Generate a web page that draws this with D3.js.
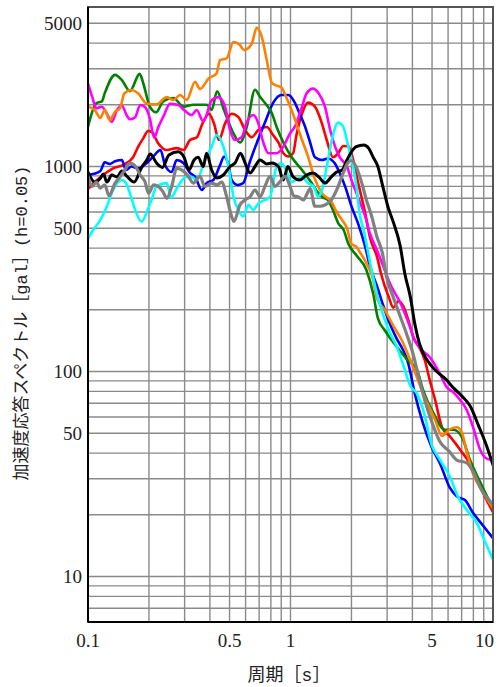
<!DOCTYPE html>
<html>
<head>
<meta charset="utf-8">
<script src="https://cdn.jsdelivr.net/npm/d3@7"></script>
<style>
  html, body { margin: 0; padding: 0; background: #fff; }
  svg { display: block; }
  .tick-label { font-family: "Liberation Serif", "DejaVu Serif", serif; font-size: 19px; fill: #222; }
  .axis-title { font-family: "Liberation Mono", "Noto Sans CJK JP", monospace; font-size: 17px; fill: #222; }
</style>
</head>
<body>
<svg id="chart" width="503" height="687"></svg>
<script>
// Response spectra, [period (s), acceleration (gal)]
const red = [[0.100,777],[0.108,840],[0.119,909],[0.133,980],[0.149,1017],[0.167,1110],[0.177,1250],[0.188,1380],[0.198,1490],[0.207,1470],[0.222,1300],[0.245,1204],[0.274,1230],[0.296,1204],[0.319,1347],[0.345,1390],[0.365,1594],[0.396,1810],[0.419,1620],[0.443,1347],[0.475,1620],[0.512,1810],[0.553,1740],[0.597,1507],[0.643,1390],[0.694,1507],[0.763,1560],[0.822,1420],[0.871,1310],[0.922,1160],[0.975,1120],[1.03,1160],[1.07,1425],[1.14,1810],[1.22,2050],[1.32,1958],[1.43,1620],[1.51,1347],[1.62,1110],[1.72,1160],[1.82,1260],[1.93,1255],[2.04,1076],[2.16,830],[2.34,590],[2.47,450],[2.68,360],[2.80,300],[3.06,230],[3.22,205],[3.41,220],[3.60,209],[3.82,178],[4.04,147],[4.33,131],[4.60,114],[4.87,91],[5.18,72.6],[5.60,53.5],[6.10,48.5],[7.01,40.5],[7.70,35.5],[8.65,27.3],[10.0,20.6]];

const blue = [[0.100,909],[0.115,950],[0.121,1050],[0.128,1030],[0.136,1060],[0.147,1076],[0.154,962],[0.164,1000],[0.177,980],[0.195,1040],[0.210,1120],[0.228,1204],[0.240,1017],[0.259,940],[0.274,1076],[0.296,1040],[0.319,930],[0.338,890],[0.365,768],[0.385,830],[0.416,860],[0.449,1017],[0.470,1120],[0.494,1017],[0.512,860],[0.547,813],[0.584,830],[0.630,1055],[0.681,1300],[0.748,1640],[0.822,2050],[0.902,2233],[0.975,2233],[1.05,2050],[1.09,1887],[1.18,1565],[1.25,1310],[1.32,1110],[1.43,1076],[1.53,1095],[1.65,1040],[1.75,930],[1.86,800],[2.00,640],[2.17,518],[2.34,405],[2.47,325],[2.67,262],[2.87,210],[3.09,172],[3.34,145],[3.60,127],[3.81,110],[4.11,78],[4.52,55.5],[4.99,42.5],[5.48,35.5],[6.10,27.3],[6.62,24.6],[7.27,23.6],[7.98,20.4],[8.90,17.8],[10.0,15.4]];

const green = [[0.100,1565],[0.110,2040],[0.117,2080],[0.121,2280],[0.136,2800],[0.147,2640],[0.161,2330],[0.180,2830],[0.188,2520],[0.202,1960],[0.217,1840],[0.235,2080],[0.264,2160],[0.296,1960],[0.331,2000],[0.386,2000],[0.408,1890],[0.434,2330],[0.469,1890],[0.523,1450],[0.563,1310],[0.608,1560],[0.668,2370],[0.707,2190],[0.748,2040],[0.809,1820],[0.854,1560],[0.922,1310],[1.02,1100],[1.14,962],[1.27,833],[1.37,744],[1.45,705],[1.53,687],[1.62,614],[1.72,530],[1.83,490],[1.93,420],[2.11,370],[2.37,313],[2.56,240],[2.70,182],[2.92,159],[3.31,134],[3.78,114],[4.21,102],[4.52,81],[5.11,62],[5.78,52],[6.39,52],[7.01,48],[7.70,37],[8.65,28.8],[10.0,21.5]];

const magenta = [[0.100,2540],[0.105,2180],[0.110,1925],[0.117,1958],[0.124,1810],[0.131,1650],[0.139,1887],[0.147,1985],[0.155,1784],[0.161,1700],[0.171,1740],[0.181,1996],[0.191,1950],[0.202,1720],[0.212,1385],[0.223,1565],[0.236,1760],[0.254,2020],[0.279,1996],[0.301,1870],[0.325,1784],[0.344,1887],[0.371,1660],[0.409,2111],[0.440,2180],[0.475,1958],[0.503,1507],[0.532,1347],[0.574,1390],[0.609,1650],[0.655,1784],[0.694,1620],[0.734,1310],[0.778,1160],[0.854,1160],[0.922,1250],[0.990,1440],[1.05,1565],[1.14,1958],[1.20,2270],[1.29,2400],[1.38,2270],[1.48,1958],[1.57,1507],[1.66,1250],[1.75,1110],[1.90,1000],[2.00,860],[2.16,705],[2.34,570],[2.47,470],[2.67,392],[2.92,313],[3.09,270],[3.48,217],[3.91,163],[4.11,142],[4.33,131],[4.89,117],[5.48,97],[5.90,84],[6.39,79],[6.88,72.6],[7.42,64.9],[8.02,52.5],[8.65,41.4],[9.40,37.4],[10.0,37.0]];

const orange = [[0.100,1958],[0.108,1887],[0.115,1725],[0.121,1887],[0.128,1686],[0.136,1850],[0.144,1925],[0.151,2270],[0.164,2362],[0.177,2270],[0.195,2030],[0.218,2010],[0.245,2180],[0.264,2111],[0.285,2233],[0.307,2111],[0.338,2590],[0.357,2390],[0.396,2700],[0.431,2840],[0.449,3308],[0.484,3370],[0.523,4050],[0.563,3916],[0.589,3702],[0.643,3960],[0.681,4750],[0.721,4300],[0.763,3308],[0.809,2560],[0.854,2480],[0.902,2430],[0.954,2170],[1.03,1800],[1.14,1347],[1.22,1120],[1.31,885],[1.43,740],[1.59,675],[1.69,600],[1.80,548],[1.90,500],[2.00,420],[2.12,405],[2.19,385],[2.38,335],[2.56,280],[2.66,230],[2.92,200],[3.22,167],[3.54,142.5],[4.03,105],[4.52,78],[5.18,58],[5.60,48.5],[6.06,52],[6.62,53.5],[7.01,50.5],[7.42,40.5],[7.98,31.6],[8.79,26.4],[10.0,21.6]];

const cyan = [[0.100,445],[0.106,490],[0.115,548],[0.124,640],[0.133,768],[0.147,860],[0.155,820],[0.164,700],[0.171,614],[0.184,538],[0.197,614],[0.206,687],[0.218,800],[0.245,830],[0.257,705],[0.276,790],[0.305,890],[0.325,890],[0.344,860],[0.378,1076],[0.408,1250],[0.432,1425],[0.466,1250],[0.494,1000],[0.523,710],[0.553,614],[0.584,570],[0.620,650],[0.654,614],[0.694,660],[0.748,687],[0.793,712],[0.854,1000],[0.902,1040],[0.954,950],[1.01,840],[1.06,860],[1.14,890],[1.22,830],[1.30,800],[1.37,712],[1.43,768],[1.51,1000],[1.59,1310],[1.72,1640],[1.82,1565],[1.93,1250],[2.04,1000],[2.12,790],[2.18,614],[2.31,480],[2.47,340],[2.67,240],[2.86,190],[3.09,155],[3.34,133],[3.60,108],[3.91,85],[4.21,78],[4.52,65],[4.99,43.5],[5.48,37],[6.10,31],[6.70,24.6],[7.42,21.1],[8.35,18.1],[9.10,14.9],[10.0,12.1]];

const black = [[0.100,940],[0.108,840],[0.115,875],[0.119,920],[0.124,840],[0.131,909],[0.139,890],[0.147,950],[0.155,900],[0.169,840],[0.184,990],[0.195,1076],[0.203,1150],[0.218,1040],[0.233,990],[0.251,1138],[0.279,1180],[0.298,1110],[0.315,962],[0.334,1076],[0.350,1110],[0.371,1000],[0.385,1160],[0.408,962],[0.432,880],[0.466,909],[0.503,1000],[0.532,1040],[0.566,1160],[0.597,1040],[0.631,930],[0.668,1000],[0.707,1076],[0.763,1030],[0.809,1040],[0.871,1000],[0.922,860],[0.970,1000],[1.03,890],[1.11,860],[1.20,909],[1.29,930],[1.38,890],[1.48,830],[1.59,890],[1.69,940],[1.80,962],[1.90,1076],[2.00,1180],[2.11,1250],[2.30,1274],[2.43,1230],[2.56,1110],[2.70,1000],[2.86,795],[3.03,635],[3.21,540],[3.48,410],[3.67,300],[3.91,230],[4.11,171],[4.33,137],[4.72,114],[5.18,101.7],[5.90,90.9],[6.39,83],[7.01,76],[7.70,68],[8.48,54.5],[9.33,43],[10.0,35]];

const gray = [[0.100,895],[0.105,800],[0.110,840],[0.115,785],[0.121,813],[0.127,720],[0.136,830],[0.144,890],[0.152,962],[0.161,1040],[0.173,990],[0.181,909],[0.191,845],[0.199,740],[0.211,813],[0.222,800],[0.235,750],[0.245,700],[0.259,800],[0.274,980],[0.290,962],[0.313,895],[0.331,830],[0.357,895],[0.378,800],[0.408,830],[0.434,813],[0.457,840],[0.484,712],[0.512,570],[0.526,540],[0.563,650],[0.597,687],[0.631,712],[0.668,768],[0.707,712],[0.748,800],[0.793,895],[0.838,800],[0.888,845],[0.940,895],[0.995,800],[1.04,718],[1.09,712],[1.16,687],[1.21,740],[1.25,780],[1.32,640],[1.40,640],[1.48,649],[1.59,687],[1.72,800],[1.82,930],[1.93,1050],[2.00,1070],[2.12,985],[2.25,830],[2.37,687],[2.52,570],[2.67,455],[2.84,380],[2.98,290],[3.22,230],[3.48,186],[3.73,154],[4.03,122],[4.33,91],[4.60,72.6],[4.89,60],[5.48,45.3],[6.06,40.9],[6.62,37],[7.42,35.8],[7.98,32.5],[8.79,26.4],[9.56,23.6],[10.0,22.5]];

const xTickLabels = [0.1, 0.5, 1, 5, 10];
const yTickLabels = [10, 50, 100, 500, 1000, 5000];

// drawing order and styles
const series = [
  { data: red, color: '#ff0000', width: 2.6 },
  { data: blue, color: '#0000ff', width: 2.6 },
  { data: green, color: '#008000', width: 2.6 },
  { data: magenta, color: '#ff00ff', width: 2.6 },
  { data: orange, color: '#ff8000', width: 2.6 },
  { data: cyan, color: '#00ffff', width: 2.6 },
  { data: black, color: '#000000', width: 3 },
  { data: gray, color: '#808080', width: 3.2 }
];

const margin = { left: 88, right: 10, top: 7, bottom: 65 };
const width = 503, height = 687;

const svg = d3.select('#chart');

const x = d3.scaleLog().domain([0.1, 10]).range([margin.left, width - margin.right]);
const y = d3.scaleLog().domain([6, 6000]).range([height - margin.bottom, margin.top]);

// grid lines: 1..9 in every decade
let xGrid = [];
[0.1, 1].forEach(d => { for (let k = 1; k <= 9; k++) xGrid.push(d * k); });
xGrid.push(10);
let yGrid = [];
[1, 10, 100, 1000].forEach(d => {
  for (let k = 1; k <= 9; k++) {
    let v = d * k;
    if (v >= 6 && v <= 6000) yGrid.push(v);
  }
});

const grid = svg.append('g');
grid.selectAll('.vg').data(xGrid).join('line')
  .attr('x1', d => x(d)).attr('x2', d => x(d))
  .attr('y1', y.range()[0]).attr('y2', y.range()[1])
  .attr('stroke', '#8a8a8a').attr('stroke-width', 1.4);
grid.selectAll('.hg').data(yGrid).join('line')
  .attr('x1', x.range()[0]).attr('x2', x.range()[1])
  .attr('y1', d => y(d)).attr('y2', d => y(d))
  .attr('stroke', '#8a8a8a').attr('stroke-width', 1.4);

// clip to plot
svg.append('clipPath').attr('id', 'plot-clip')
  .append('rect')
  .attr('x', x.range()[0]).attr('y', y.range()[1])
  .attr('width', x.range()[1] - x.range()[0])
  .attr('height', y.range()[0] - y.range()[1]);

const line = d3.line()
  .x(d => x(d[0]))
  .y(d => y(d[1]))
  .curve(d3.curveMonotoneX);

const lines = svg.append('g').attr('clip-path', 'url(#plot-clip)');
series.forEach(s => {
  lines.append('path')
    .attr('d', line(s.data))
    .attr('fill', 'none')
    .attr('stroke', s.color)
    .attr('stroke-width', s.width)
    .attr('stroke-linejoin', 'round')
    .attr('stroke-linecap', 'round');
});

// frame
svg.append('rect')
  .attr('x', x.range()[0]).attr('y', y.range()[1])
  .attr('width', x.range()[1] - x.range()[0])
  .attr('height', y.range()[0] - y.range()[1])
  .attr('fill', 'none').attr('stroke', '#555').attr('stroke-width', 2);
svg.append('line')
  .attr('x1', x.range()[0]).attr('x2', x.range()[0])
  .attr('y1', y.range()[1]).attr('y2', y.range()[0])
  .attr('stroke', '#000').attr('stroke-width', 2);
svg.append('line')
  .attr('x1', x.range()[0]).attr('x2', x.range()[1])
  .attr('y1', y.range()[0]).attr('y2', y.range()[0])
  .attr('stroke', '#000').attr('stroke-width', 2);

// tick labels
svg.selectAll('.xl').data(xTickLabels).join('text')
  .attr('class', 'tick-label')
  .attr('x', d => d === 10 ? x(d) + 1 : x(d))
  .attr('y', 647)
  .attr('text-anchor', d => d === 10 ? 'end' : 'middle')
  .text(d => d);

svg.selectAll('.yl').data(yTickLabels).join('text')
  .attr('class', 'tick-label')
  .attr('x', 82)
  .attr('y', d => y(d))
  .attr('dy', '0.35em')
  .attr('text-anchor', 'end')
  .text(d => d);

// axis titles
svg.append('text')
  .attr('class', 'axis-title')
  .attr('x', 289).attr('y', 681)
  .attr('text-anchor', 'middle')
  .style('font-size', '18px')
  .text('周期［s］');

svg.append('text')
  .attr('class', 'axis-title')
  .attr('transform', 'translate(21,323) rotate(-90)')
  .attr('text-anchor', 'middle')
  .attr('dy', '0.35em')
  .text('加速度応答スペクトル［gal］(h=0.05)');
</script>
</body>
</html>
